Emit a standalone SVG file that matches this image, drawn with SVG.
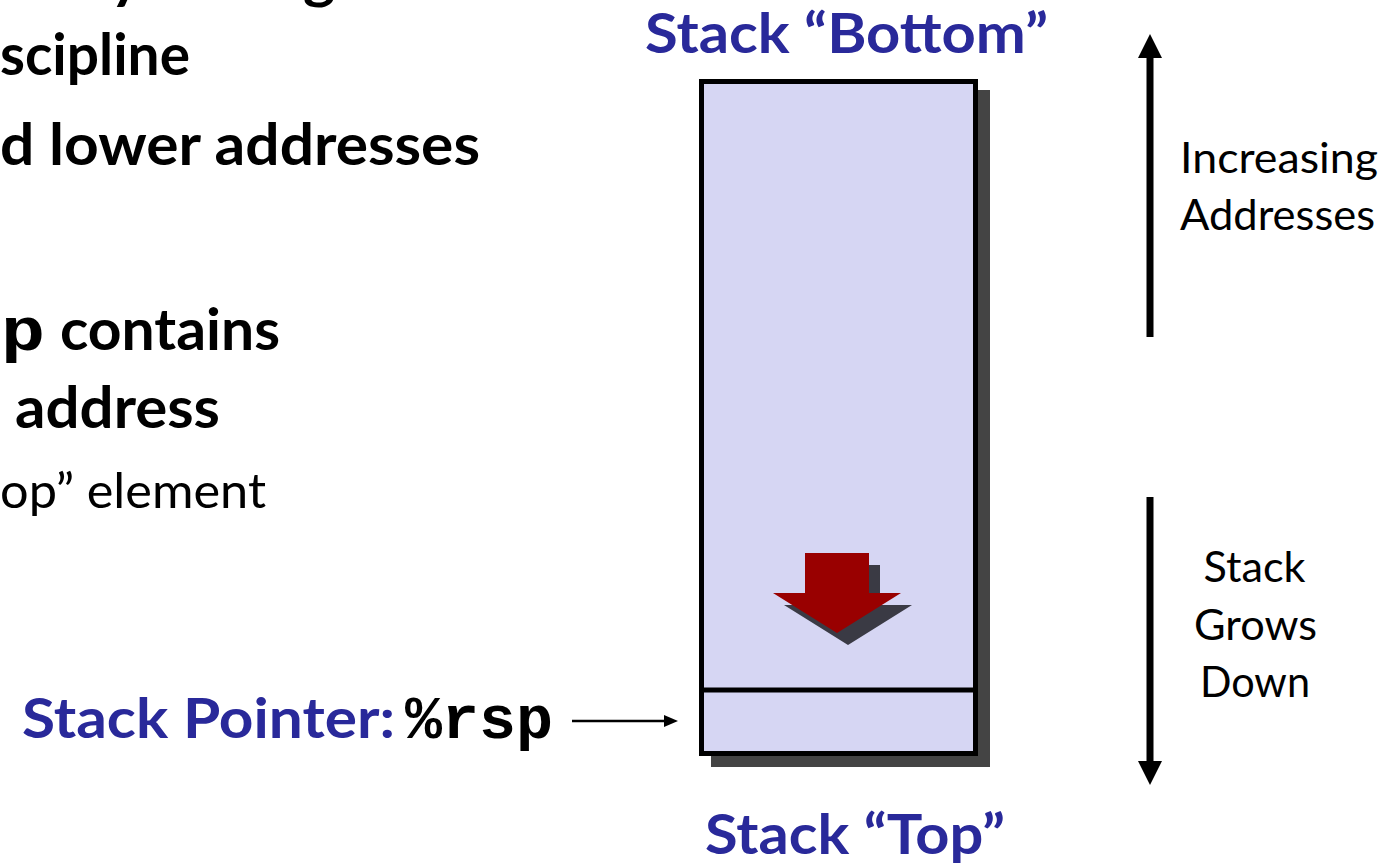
<svg xmlns="http://www.w3.org/2000/svg" width="1389" height="864" viewBox="0 0 1389 864">
<style>
.b{font-family:Lato,"Open Sans","Liberation Sans",sans-serif;font-weight:700;font-size:58px;fill:#000}
.r{font-family:Lato,"Open Sans","Liberation Sans",sans-serif;font-weight:400;fill:#000}
.t{font-family:Lato,"Open Sans","Liberation Sans",sans-serif;font-weight:700;font-size:56px;fill:#29299a}
.m{font-family:"Liberation Mono","Courier New",monospace;font-weight:700;font-size:61px;fill:#000}
.lbl{font-size:42px}
</style>
<rect width="1389" height="864" fill="#fff"/>
<g id="bullets">
<text class="b" x="-83" y="-3" textLength="485" lengthAdjust="spacingAndGlyphs">memory managed</text>
<text class="b" x="0" y="75" textLength="190" lengthAdjust="spacingAndGlyphs">scipline</text>
<text class="b" x="0" y="165" textLength="480" lengthAdjust="spacingAndGlyphs">d lower addresses</text>
<text class="m" x="1" y="350" textLength="44" lengthAdjust="spacingAndGlyphs">p</text>
<text class="b" x="60" y="350" textLength="220" lengthAdjust="spacingAndGlyphs">contains</text>
<text class="b" x="15" y="428" textLength="205" lengthAdjust="spacingAndGlyphs">address</text>
<text class="r" x="0" y="508" font-size="48" textLength="266" lengthAdjust="spacingAndGlyphs">op” element</text>
</g>
<g id="stack">
<rect x="711" y="90" width="279" height="677" fill="#444"/>
<rect x="701.5" y="81.5" width="274" height="672" fill="#d6d6f3" stroke="#000" stroke-width="5"/>
<line x1="701.5" y1="690" x2="975.5" y2="690" stroke="#000" stroke-width="5"/>
<polygon points="816,565 880,565 880,605 912,605 848,645 784,605 816,605" fill="#3a3a44"/>
<polygon points="805,553 869,553 869,593 901,593 837,633 773,593 805,593" fill="#990000"/>
</g>
<g id="titles">
<text class="t" x="645" y="53" textLength="403" lengthAdjust="spacingAndGlyphs">Stack “Bottom”</text>
<text class="t" x="705" y="854" textLength="300" lengthAdjust="spacingAndGlyphs">Stack “Top”</text>
</g>
<g id="pointer">
<text class="t" x="22" y="738" textLength="373" lengthAdjust="spacingAndGlyphs">Stack Pointer:</text>
<text class="m" x="405" y="738" textLength="148" lengthAdjust="spacingAndGlyphs">%rsp</text>
</g>
<g id="labels">
<text class="r lbl" x="1180" y="173" textLength="198" lengthAdjust="spacingAndGlyphs">Increasing</text>
<text class="r lbl" x="1180" y="230" textLength="195" lengthAdjust="spacingAndGlyphs">Addresses</text>
<text class="r lbl" x="1254.5" y="582" text-anchor="middle" textLength="102" lengthAdjust="spacingAndGlyphs">Stack</text>
<text class="r lbl" x="1255.5" y="639.5" text-anchor="middle" textLength="123" lengthAdjust="spacingAndGlyphs">Grows</text>
<text class="r lbl" x="1255" y="697" text-anchor="middle" textLength="110" lengthAdjust="spacingAndGlyphs">Down</text>
</g>
<g id="connectors">
<line x1="572" y1="721" x2="666" y2="721" stroke="#000" stroke-width="2.5"/>
<polygon points="664,715 678,721 664,727" fill="#000"/>
<line x1="1150" y1="337" x2="1150" y2="56" stroke="#000" stroke-width="7"/>
<polygon points="1138,58 1162,58 1150,34" fill="#000"/>
<line x1="1150" y1="497" x2="1150" y2="763" stroke="#000" stroke-width="7"/>
<polygon points="1138,761 1162,761 1150,785" fill="#000"/>
</g>
</svg>
